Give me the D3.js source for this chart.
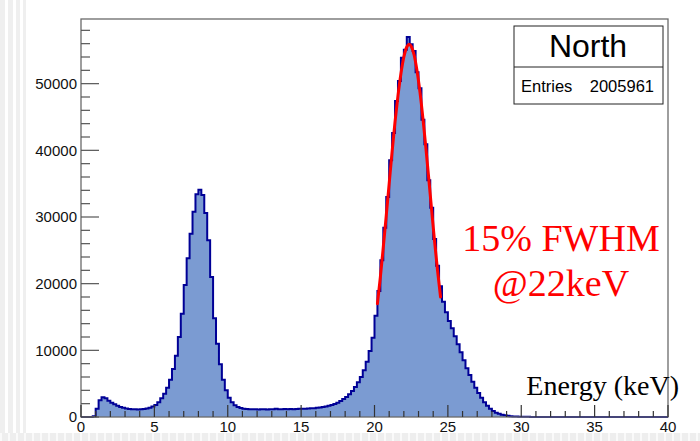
<!DOCTYPE html>
<html><head><meta charset="utf-8">
<script src="https://cdn.jsdelivr.net/npm/d3@7"></script>
<style>body{margin:0;background:#fff;} svg{display:block;}</style>
</head><body>
<svg id="c" width="700" height="441"></svg>
<script>
// ---- data ----
const binStart = 0, binWidth = 0.2;
const counts = [
0,0,0,0,100,1250,2500,2950,2800,2450,
2150,1900,1680,1500,1370,1270,1210,1170,1150,1140,
1160,1200,1280,1400,1560,1800,2200,2800,3500,4400,
5600,7200,9200,12000,15500,19800,23800,27500,30800,33400,
34100,33300,30600,26500,21000,14800,11000,7900,5600,4000,
2900,2200,1750,1500,1350,1250,1200,1170,1150,1150,
1140,1160,1150,1140,1160,1170,1230,1170,1160,1190,
1170,1200,1180,1200,1250,1220,1240,1270,1300,1330,
1380,1430,1500,1580,1680,1800,1950,2150,2400,2700,
3000,3400,3900,4500,5200,6000,7000,8300,9900,11900,
15200,18900,23500,28400,33000,38500,42600,47400,50400,53900,
55100,57000,55900,54900,51700,49300,44600,40900,35500,31400,
26700,22700,19600,17300,15700,14400,13300,12100,10900,9700,
8500,7300,6300,5300,4400,3600,2900,2200,1700,1250,
900,650,480,350,250,180,130,90,70,50,
40,30,20,15,10,8,5,3,2,1,
0,0,0,0,0,0,0,0,0,0,
0,0,0,0,0,0,0,0,0,0,
0,0,0,0,0,0,0,0,0,0,
0,0,0,0,0,0,0,0,0,0
];
const fitEnergy = [20.2,20.4,20.6,20.8,21.0,21.2,21.4,21.6,21.8,22.0,22.2,22.35,22.5,22.7,22.9,23.1,23.3,23.5,23.7,23.9,24.1,24.3,24.5];
const fitCounts = [17000,21000,25500,30200,35000,39800,44300,48200,51500,54000,55500,55900,55600,54300,51900,48700,44800,40400,35700,30900,26200,21900,18000];
const xTickValues = [0,5,10,15,20,25,30,35,40];
const yTickValues = [0,10000,20000,30000,40000,50000];
const histTitle = "North";
const entriesLabel = "Entries";
const entriesValue = "2005961";
const annotationLines = ["15% FWHM", "@22keV"];
const xAxisTitle = "Energy (keV)";

// ---- drawing ----
const svg = d3.select("#c");
const W = 700, H = 441;
const frame = {l: 81, r: 668, t: 19, b: 417};
const x = d3.scaleLinear().domain([0, 40]).range([frame.l, frame.r]);
const y = d3.scaleLinear().domain([0, 59700]).range([frame.b, frame.t]);

svg.append("rect").attr("width", W).attr("height", H).attr("fill", "#fff");

const bins = counts.map((c, i) => ({lo: binStart + i * binWidth, c}));
const stepData = bins.concat([{lo: binStart + counts.length * binWidth, c: counts[counts.length - 1]}]);

const area = d3.area().x(d => x(d.lo)).y0(y(0)).y1(d => y(d.c)).curve(d3.curveStepAfter);
svg.append("path").attr("d", area(stepData)).attr("fill", "#7b9bd2");

const outline = d3.line().x(d => x(d.lo)).y(d => y(d.c)).curve(d3.curveStepAfter);
svg.append("path").attr("d", outline(stepData)).attr("fill", "none")
  .attr("stroke", "#000096").attr("stroke-width", 2).attr("stroke-linejoin", "miter");

// fit
const fitLine = d3.line().x(d => x(d[0])).y(d => y(d[1])).curve(d3.curveMonotoneX);
svg.append("path").attr("d", fitLine(fitEnergy.map((e, i) => [e, fitCounts[i]])))
  .attr("fill", "none").attr("stroke", "#ff0000").attr("stroke-width", 3).attr("stroke-linecap", "round");

// frame
svg.append("rect").attr("x", frame.l).attr("y", frame.t)
  .attr("width", frame.r - frame.l).attr("height", frame.b - frame.t)
  .attr("fill", "none").attr("stroke", "#6a6a6a").attr("stroke-width", 1.3);

// y ticks
const g = svg.append("g");
d3.range(0, 59000, 2000).forEach(v => {
  const major = v % 10000 === 0;
  g.append("line").attr("x1", frame.l).attr("x2", frame.l + (major ? 18 : 9))
    .attr("y1", y(v)).attr("y2", y(v)).attr("stroke", "#555").attr("stroke-width", 1.2);
});
yTickValues.forEach(v => {
  g.append("text").attr("x", 77).attr("y", y(v)).attr("dy", "0.36em")
    .attr("text-anchor", "end").attr("font-family", "'Liberation Sans', Arial, sans-serif")
    .attr("font-size", 15).attr("fill", "#111").text(v);
});
// x ticks
d3.range(0, 41, 1).forEach(v => {
  const major = v % 5 === 0;
  g.append("line").attr("x1", x(v)).attr("x2", x(v))
    .attr("y1", frame.b).attr("y2", frame.b - (major ? 12 : 6))
    .attr("stroke", "#333").attr("stroke-width", 1.2);
});
xTickValues.forEach(v => {
  g.append("text").attr("x", x(v)).attr("y", 432)
    .attr("text-anchor", "middle").attr("font-family", "'Liberation Sans', Arial, sans-serif")
    .attr("font-size", 15).attr("fill", "#111").text(v);
});

// axis title
svg.append("text").attr("x", 679).attr("y", 395).attr("text-anchor", "end")
  .attr("font-family", "'Liberation Serif', 'Times New Roman', serif")
  .attr("font-size", 28).attr("fill", "#000").text(xAxisTitle);

// annotation
annotationLines.forEach((t, i) => {
  svg.append("text").attr("x", 561).attr("y", 251 + i * 45).attr("text-anchor", "middle")
    .attr("font-family", "'Liberation Serif', 'Times New Roman', serif")
    .attr("font-size", 38).attr("fill", "#ff0000").text(t);
});

// stats box
const box = {l: 514, r: 663, t: 26, m: 67, b: 104};
svg.append("rect").attr("x", box.l).attr("y", box.t).attr("width", box.r - box.l)
  .attr("height", box.b - box.t).attr("fill", "#fff").attr("stroke", "#222").attr("stroke-width", 1);
svg.append("line").attr("x1", box.l).attr("x2", box.r).attr("y1", box.m).attr("y2", box.m)
  .attr("stroke", "#222").attr("stroke-width", 1);
svg.append("text").attr("x", 588).attr("y", 57).attr("text-anchor", "middle")
  .attr("font-family", "'Liberation Sans', Arial, sans-serif").attr("font-size", 32)
  .attr("fill", "#000").text(histTitle);
svg.append("text").attr("x", 521).attr("y", 92)
  .attr("font-family", "'Liberation Sans', Arial, sans-serif").attr("font-size", 16.5)
  .attr("fill", "#000").text(entriesLabel);
svg.append("text").attr("x", 654).attr("y", 92).attr("text-anchor", "end")
  .attr("font-family", "'Liberation Sans', Arial, sans-serif").attr("font-size", 16.5)
  .attr("fill", "#000").text(entriesValue);

// slide artefacts: light grey dashed strips at left and bottom
const deco = svg.append("g");
[[0,5],[8,5],[16,4],[23,3]].forEach(s => {
  deco.append("rect").attr("x", s[0]).attr("y", 0).attr("width", s[1]).attr("height", H)
    .attr("fill", "#efefef");
});
deco.append("rect").attr("x", 0).attr("y", 433).attr("width", W).attr("height", 8).attr("fill", "#eeeeee");
d3.range(0, W, 8).forEach(px => {
  deco.append("rect").attr("x", px).attr("y", 433).attr("width", 2).attr("height", 8).attr("fill", "#fafafa");
});
</script>
</body></html>
